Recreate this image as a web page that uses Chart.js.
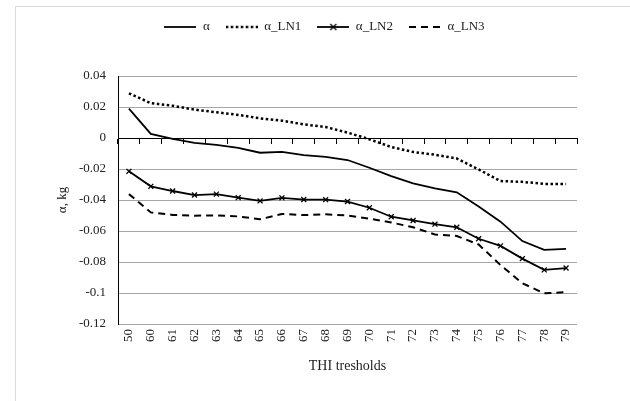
<!DOCTYPE html>
<html>
<head>
<meta charset="utf-8">
<script src="https://cdn.jsdelivr.net/npm/chart.js@4.4.1/dist/chart.umd.min.js"></script>
<style>
  body { margin: 0; background: #fff; overflow: hidden; }
  .wrap { position: relative; width: 630px; height: 401px; }
  .frame {
    position: absolute; left: 15px; top: 6px; width: 640px; height: 420px;
    border-top: 1px solid #d9d9d9; border-left: 1px solid #d9d9d9;
  }
  #chart { position: absolute; left: 0; top: 0; }
</style>
</head>
<body>
<div class="wrap">
  <div class="frame"></div>
  <canvas id="chart" width="630" height="401"></canvas>
</div>
<script>
// ====== DADOS ======
const thresholds = ["50", "60", "61", "62", "63", "64", "65", "66", "67", "68", "69",
  "70", "71", "72", "73", "74", "75", "76", "77", "78", "79"];

const alpha = [0.019, 0.0027, -0.0005, -0.0032, -0.0044, -0.0063, -0.0095, -0.009, -0.011, -0.0122, -0.0142,
  -0.0192, -0.0246, -0.0293, -0.0325, -0.035, -0.0442, -0.054, -0.0665, -0.0722, -0.0715];
const alphaLN1 = [0.0288, 0.0225, 0.0208, 0.0183, 0.0166, 0.0149, 0.0127, 0.0112, 0.0088, 0.0071, 0.0035,
  -0.0008, -0.0058, -0.009, -0.0108, -0.0132, -0.0203, -0.0278, -0.0283, -0.0296, -0.0296];
const alphaLN2 = [-0.0215, -0.0312, -0.0342, -0.0368, -0.0362, -0.0385, -0.0406, -0.0386, -0.0397, -0.0398, -0.041,
  -0.045, -0.0508, -0.0532, -0.0556, -0.0576, -0.065, -0.0696, -0.0778, -0.0851, -0.0839];
const alphaLN3 = [-0.0362, -0.048, -0.0496, -0.0501, -0.0499, -0.0506, -0.0524, -0.049, -0.0497, -0.0492, -0.050,
  -0.052, -0.0545, -0.0576, -0.0622, -0.0632, -0.0687, -0.082, -0.0937, -0.1002, -0.0995];

const seriesNames = ["α", "α_LN1", "α_LN2", "α_LN3"];

const FONT = "'Liberation Serif', 'Times New Roman', serif";
const TEXT = "#222";
const GRID = "#a6a6a6";

// estilos de linha (usados nas séries e na legenda)
const lineStyles = [
  { width: 1.8, dash: [], marker: false },
  { width: 2.5, dash: [2.5, 2.5], marker: false },
  { width: 1.8, dash: [], marker: true },
  { width: 2, dash: [7, 5], marker: false },
];

// ícones da legenda desenhados num canvas pequeno
function legendIcon(style) {
  const c = document.createElement("canvas");
  c.width = 32;
  c.height = 10;
  const g = c.getContext("2d");
  g.strokeStyle = "#000";
  g.lineWidth = style.width;
  g.setLineDash(style.dash);
  g.beginPath();
  g.moveTo(0, 5);
  g.lineTo(32, 5);
  g.stroke();
  if (style.marker) {
    g.setLineDash([]);
    g.lineWidth = 1.3;
    g.beginPath();
    g.moveTo(13, 2); g.lineTo(19, 8);
    g.moveTo(19, 2); g.lineTo(13, 8);
    g.stroke();
  }
  return c;
}
const icons = lineStyles.map(legendIcon);

const seriesData = [alpha, alphaLN1, alphaLN2, alphaLN3];

const datasets = seriesData.map((values, i) => ({
  label: seriesNames[i],
  data: values,
  xAxisID: "x",
  borderColor: "#000",
  backgroundColor: "#000",
  borderWidth: lineStyles[i].width,
  borderDash: lineStyles[i].dash,
  tension: 0,
  pointStyle: "crossRot",
  pointRadius: lineStyles[i].marker ? 3.5 : 0,
  pointBorderWidth: 1.3,
  pointBorderColor: "#000",
}));

// espaço extra abaixo da legenda
const legendMargin = {
  id: "legendMargin",
  beforeInit(chart) {
    const fit = chart.legend.fit;
    chart.legend.fit = function () {
      fit.call(this);
      this.height = 71.5;
    };
  },
};

new Chart(document.getElementById("chart"), {
  type: "line",
  data: { labels: thresholds, datasets },
  options: {
    responsive: false,
    animation: false,
    devicePixelRatio: 1,
    layout: { padding: { left: 72, right: 53, top: 4.5, bottom: 0 } },
    plugins: {
      tooltip: { enabled: false },
      legend: {
        position: "top",
        labels: {
          usePointStyle: true,
          pointStyleWidth: 32,
          boxHeight: 13,
          padding: 16,
          color: TEXT,
          font: { family: FONT, size: 13 },
          generateLabels: (chart) =>
            chart.data.datasets.map((ds, i) => ({
              text: ds.label,
              pointStyle: icons[i],
              fillStyle: "#000",
              strokeStyle: "#000",
              lineWidth: 0,
              hidden: false,
              datasetIndex: i,
              fontColor: TEXT,
            })),
        },
      },
    },
    scales: {
      x: {
        type: "category",
        position: "bottom",
        offset: true,
        grid: { display: false, drawTicks: false },
        border: { display: false },
        ticks: {
          autoSkip: false,
          minRotation: 90,
          maxRotation: 90,
          padding: 5,
          color: TEXT,
          font: { family: FONT, size: 13 },
        },
        title: {
          display: true,
          text: "THI tresholds",
          color: TEXT,
          font: { family: FONT, size: 14 },
          padding: { top: 0, bottom: 26.6 },
        },
        afterFit: (s) => { s.height = 77; },
      },
      // eixo horizontal cruzando em zero, com as marcas entre categorias
      x2: {
        type: "category",
        axis: "x",
        labels: thresholds,
        position: { y: 0 },
        offset: true,
        grid: { drawOnChartArea: false, offset: true, tickLength: 5, color: "#000", tickWidth: 1 },
        border: { color: "#000", width: 1 },
        ticks: { display: false },
      },
      y: {
        min: -0.12,
        max: 0.04,
        grid: {
          drawTicks: false,
          lineWidth: 1,
          color: (ctx) => (ctx.tick && ctx.tick.value === 0 ? "rgba(0,0,0,0)" : GRID),
        },
        border: { color: "#000", width: 1 },
        ticks: {
          stepSize: 0.02,
          padding: 12,
          color: TEXT,
          font: { family: FONT, size: 13 },
          callback: (v) => String(Number(Number(v).toFixed(2))),
        },
        title: {
          display: true,
          text: "α, kg",
          color: TEXT,
          font: { family: FONT, size: 13 },
          padding: { top: -16.8, bottom: 0 },
        },
        afterFit: (s) => { s.width = 46; },
      },
    },
  },
  plugins: [legendMargin],
});
</script>
</body>
</html>
